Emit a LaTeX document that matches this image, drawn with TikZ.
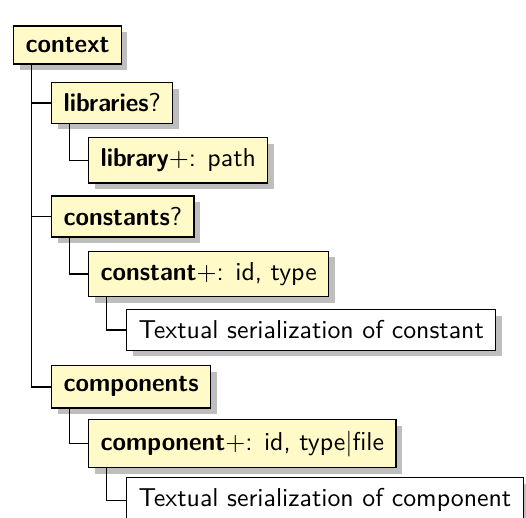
\documentclass[tikz,border=0pt]{standalone}
\usetikzlibrary{shadows}
\definecolor{boxyellow}{RGB}{255,250,200}
\definecolor{shadowgray}{RGB}{190,190,190}
\newcommand{\bw}[1]{\scalebox{0.95}[1.0]{\textbf{#1}}}
\begin{document}
\begin{tikzpicture}[x=0.3871pt,y=-0.3871pt,
  every node/.style={font=\sffamily},
  elem/.style={draw=black, line width=0.5pt, fill=boxyellow, anchor=north west,
    inner xsep=4.6pt, inner ysep=4.3pt,
    drop shadow={shadow xshift=2.3pt, shadow yshift=-2.3pt, fill=shadowgray, opacity=1}},
  txt/.style={elem, fill=white},
  conn/.style={line width=0.5pt, draw=black}]
\clip (0,0) rectangle (526,517);
\node[elem] (ctx) at (13,25.5) {\bw{context}};
\node[elem] (libs) at (51,82) {\bw{libraries}?};
\node[elem] (lib) at (88,137) {\bw{library}$+$: path};
\node[elem] (consts) at (51,195.5) {\bw{constants}?};
\node[elem] (const) at (88,250.5) {\bw{constant}$+$: id, type};
\node[txt] (ctxt) at (126,309) {Textual serialization of constant};
\node[elem] (comps) at (51,365) {\bw{components}};
\node[elem] (comp) at (88,419) {\bw{component}$+$: id, type$|$file};
\node[txt] (cmtxt) at (126,477) {Textual serialization of component};
\draw[conn] ([xshift=7.2pt]ctx.south west) |- (libs.west);
\draw[conn] ([xshift=7.2pt]ctx.south west) |- (consts.west);
\draw[conn] ([xshift=7.2pt]ctx.south west) |- (comps.west);
\draw[conn] ([xshift=7.2pt]libs.south west) |- (lib.west);
\draw[conn] ([xshift=7.2pt]consts.south west) |- (const.west);
\draw[conn] ([xshift=7.2pt]const.south west) |- (ctxt.west);
\draw[conn] ([xshift=7.2pt]comps.south west) |- (comp.west);
\draw[conn] ([xshift=7.2pt]comp.south west) |- (cmtxt.west);
\end{tikzpicture}
\end{document}
